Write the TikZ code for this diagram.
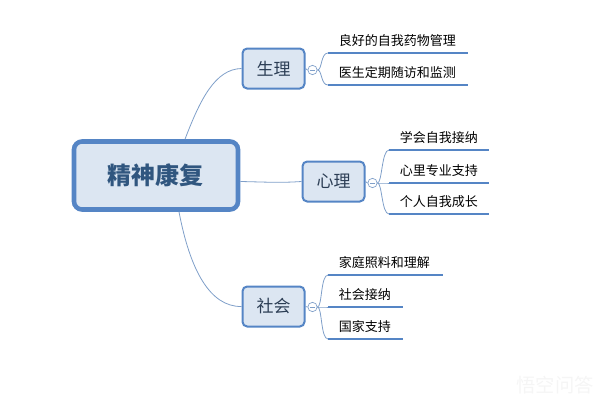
\documentclass[tikz,border=0pt]{standalone}
\usepackage{fontspec}
\setmainfont{Noto Sans CJK SC}
\definecolor{boxfill}{HTML}{DCE6F2}
\definecolor{boxline}{HTML}{5585C5}
\definecolor{linkline}{HTML}{7F9FC9}
\definecolor{rootink}{HTML}{30567F}
\definecolor{topicink}{HTML}{2C3E55}
\tikzset{
  rootbox/.style={draw=boxline,fill=boxfill,line width=3.4pt,rounded corners=6pt,
    minimum width=123pt,minimum height=51pt,inner sep=0pt,
    text=rootink,font=\fontsize{18}{18}\selectfont\bfseries},
  topicbox/.style={draw=boxline,fill=boxfill,line width=1.5pt,rounded corners=3.5pt,
    minimum width=46.5pt,minimum height=30pt,inner sep=0pt,
    text=topicink,font=\fontsize{12.75}{13}\selectfont},
  foldmark/.style={circle,draw=linkline,fill=white,line width=0.5pt,minimum size=7pt,inner sep=0pt},
  leaftext/.style={anchor=west,inner sep=0pt,text=black,font=\fontsize{9.75}{10}\selectfont},
  leafline/.style={draw=boxline,line width=2.2pt},
  linkcurve/.style={draw=linkline,line width=0.6pt}
}
\begin{document}
\begin{tikzpicture}[x=0.75pt,y=-0.75pt]
  \useasboundingbox (0,0) rectangle (608,404);
  \node[rootbox] (root) at (156,175.5) {精神康复};
  \node[topicbox] (body) at (273.5,68.5) {生理};
  \node[topicbox] (mind) at (333.5,181.5) {心理};
  \node[topicbox] (society) at (273.5,306.5) {社会};
  \node[foldmark] (foldbody) at (312.5,70) {};
  \node[foldmark] (foldmind) at (372.5,183) {};
  \node[foldmark] (foldsociety) at (312.5,307) {};
  \foreach \fold in {foldbody,foldmind,foldsociety} {
    \draw[linkline,line width=0.5pt] ([xshift=-2pt]\fold.center) -- ([xshift=2pt]\fold.center);
  }
  % main branches
  \draw[linkcurve] ([xshift=21.75pt]root.north) .. controls (200,100) and (215,69) .. (body.west);
  \draw[linkcurve] ([yshift=-4.5pt]root.east) .. controls (265,182) and (280,183) .. (mind.west);
  \draw[linkcurve] ([xshift=17.25pt]root.south) .. controls (190,270) and (210,307) .. (society.west);
  \draw[linkcurve] (body.east) -- (foldbody.west);
  \draw[linkcurve] (mind.east) -- (foldmind.west);
  \draw[linkcurve] (society.east) -- (foldsociety.west);
  % leaves: name/line start/line y/line end/text/fold
  \foreach \leaf/\from/\yy/\to/\txt/\fold in {
      gooddrug/328/53/468/良好的自我药物管理/foldbody,
      doctor/328/85/468/医生定期随访和监测/foldbody,
      accept/389/150/489/学会自我接纳/foldmind,
      support/389/183/489/心里专业支持/foldmind,
      growth/389/214/489/个人自我成长/foldmind,
      family/328/275/443/家庭照料和理解/foldsociety,
      social/328/307/403/社会接纳/foldsociety,
      nation/328/339/403/国家支持/foldsociety} {
    \coordinate (\leaf a) at (\from,\yy);
    \coordinate (\leaf b) at (\to,\yy);
    \node[leaftext] (\leaf) at (\from+10.5,\yy-12.5) {\txt};
    \draw[leafline] (\leaf a) -- (\leaf b);
    \draw[linkcurve] (\fold.east) .. controls ([xshift=3.5pt]\fold.east) and ([xshift=-5.5pt]\leaf a) .. (\leaf a);
  }
  \node[text=black!4,inner sep=0pt,font=\fontsize{14.5}{15}\selectfont] (mark) at (555,385) {悟空问答};
\end{tikzpicture}
\end{document}
